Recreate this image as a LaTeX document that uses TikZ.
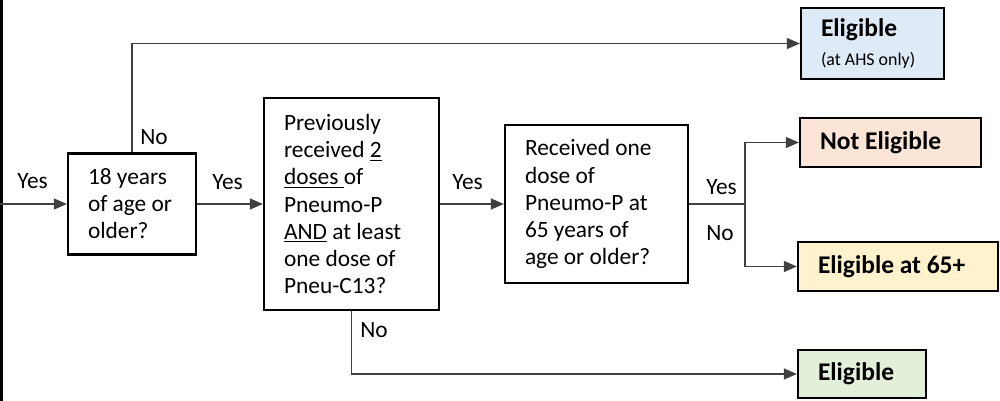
\documentclass[tikz,border=0pt]{standalone}
\usepackage{fontspec}
\setmainfont{Carlito}
\usetikzlibrary{arrows.meta}
\definecolor{ahsblue}{HTML}{DEEBF7}
\definecolor{notpeach}{HTML}{FBE5D6}
\definecolor{oldyellow}{HTML}{FFF2CC}
\definecolor{okgreen}{HTML}{E2F0D9}
\begin{document}
\begin{tikzpicture}[x=0.02cm, y=-0.02cm, >={Triangle[length=0.26cm,width=0.22cm]}]
    \tikzstyle{every node}=[font=\fontsize{13.3}{15.4}\selectfont]
    \tikzstyle{qbox}=[draw, line width=1.3pt, align=flush left, inner xsep=0.4cm, inner ysep=0pt]
    \tikzstyle{rbox}=[qbox, font=\fontsize{14.5}{16}\selectfont\bfseries]
    \tikzstyle{lbl}=[inner sep=0pt, anchor=west]
    \tikzstyle{link}=[->, draw=black!75, line width=0.7pt]

% The following code draws the pneumococcal vaccine decision chart, left to right.

    \useasboundingbox (0,0) rectangle (1000,401);
    \draw[line width=1.7pt] (1.2,0) -- (1.2,401);

    \node[qbox, text width=1.76cm, minimum height=2.02cm] (q1) at (132,204) {18~years\\ of~age~or\\ older?};
    \node[qbox, text width=2.7cm, minimum height=4.24cm] (q2) at (351.5,204) {Previously\\ received~\underline{2}\\ \underline{doses\ }of\\ Pneumo-P\\ \underline{AND}~at~least\\ one~dose~of\\ Pneu-C13?};
    \node[qbox, text width=2.86cm, minimum height=3.16cm] (q3) at (596.5,204) {Received~one\\ dose~of\\ Pneumo-P~at\\ 65~years~of\\ age~or~older?};

    \node[qbox, fill=ahsblue, text width=2.06cm, minimum height=1.42cm] (eligAHS) at (872.5,43.5) {{\fontsize{14.5}{16}\selectfont\bfseries Eligible}\\[1pt] {\fontsize{10.2}{12}\selectfont (at~AHS~only)}};
    \node[rbox, fill=notpeach, text width=2.82cm, minimum height=0.98cm] (notElig) at (890.5,142.5) {Not~Eligible};
    \node[rbox, fill=oldyellow, text width=3.2cm, minimum height=0.98cm] (elig65) at (898,266.5) {Eligible~at~65+};
    \node[rbox, fill=okgreen, text width=1.76cm, minimum height=0.96cm] (elig) at (862,374) {Eligible};

    \coordinate (start) at (0,204);
    \coordinate (split) at (745,204);

    \draw[link] (start) -- (q1);
    \draw[link] (q1) -- (q2);
    \draw[link] (q2) -- (q3);
    \draw[link] (q1.north) |- (eligAHS);
    \draw[link] (q2.south) |- (elig);
    \draw[draw=black!75, line width=0.7pt] (q3) -- (split);
    \draw[link] (split) |- (notElig);
    \draw[link] (split) |- (elig65);

    \node[lbl] (yesIn) at (17,181) {Yes};
    \node[lbl] (noAge) at (140,137) {No};
    \node[lbl] (yesAge) at (212,182) {Yes};
    \node[lbl] (noDoses) at (360,330) {No};
    \node[lbl] (yesDoses) at (452,182) {Yes};
    \node[lbl] (yesSixty) at (706,187) {Yes};
    \node[lbl] (noSixty) at (706,233) {No};

\end{tikzpicture}
\end{document}
